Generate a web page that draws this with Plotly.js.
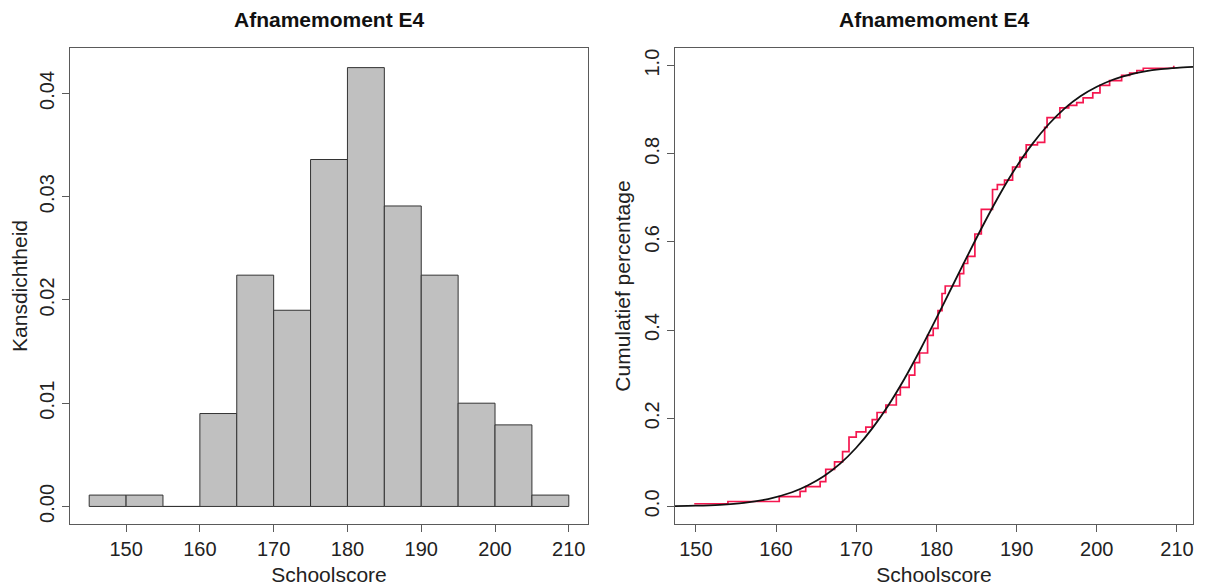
<!DOCTYPE html>
<html>
<head>
<meta charset="utf-8">
<script src="https://cdn.plot.ly/plotly-3.0.1.min.js"></script>
<style>html,body{margin:0;padding:0;background:#fff;}#chart{width:1210px;height:586px;}</style>
</head>
<body>
<div id="chart"></div>
<script>
// Histogram: bin left edges (width 5) and densities
const binStarts = [145, 150, 155, 160, 165, 170, 175, 180, 185, 190, 195, 200, 205];
const densities = [0.0011, 0.0011, 0.0, 0.0090, 0.0224, 0.0190, 0.0336, 0.0425, 0.0291, 0.0224, 0.0100, 0.0079, 0.0011];
const binWidth = 5;

// Empirical cumulative distribution (red step line)
const ecdfScore = [149.8, 154, 160.4, 163, 163.7, 165.5, 166.2, 167.3, 168.3, 169.1, 170, 171.2, 172, 172.6, 173.7, 175, 175.5, 176.6, 177.3, 177.9, 178.9, 179.6, 180.2, 180.7, 181.1, 182.9, 183.4, 183.9, 184.8, 185.6, 187, 187.6, 188.5, 189.5, 190.4, 191.2, 192.6, 193.5, 193.8, 195.4, 196.5, 197.5, 198.3, 199.5, 200.4, 201.6, 203.1, 204.1, 205, 205.8, 209.6];
const ecdfCum   = [0.006, 0.011, 0.022, 0.034, 0.045, 0.056, 0.084, 0.101, 0.124, 0.157, 0.169, 0.180, 0.197, 0.213, 0.230, 0.253, 0.270, 0.298, 0.326, 0.348, 0.388, 0.404, 0.444, 0.483, 0.500, 0.528, 0.551, 0.567, 0.618, 0.674, 0.719, 0.730, 0.740, 0.770, 0.792, 0.820, 0.826, 0.860, 0.882, 0.904, 0.910, 0.916, 0.927, 0.938, 0.955, 0.966, 0.978, 0.983, 0.989, 0.994, 1.000];

// Fitted smooth cumulative curve (black)
const fitScore = [147.4, 150, 153, 156, 159, 162, 164, 166, 168, 170, 172, 174, 176, 178, 180, 182, 184, 186, 188, 190, 192, 194, 196, 198, 200, 202, 204, 206, 208, 210, 212];
const fitCum   = [0.0007, 0.0015, 0.0036, 0.0080, 0.0166, 0.032, 0.048, 0.069, 0.097, 0.133, 0.177, 0.229, 0.289, 0.356, 0.427, 0.500, 0.573, 0.644, 0.711, 0.771, 0.823, 0.867, 0.903, 0.931, 0.952, 0.968, 0.979, 0.987, 0.992, 0.995, 0.997];

const titleText = 'Afnamemoment E4';
const xLabel = 'Schoolscore';
const yLabelLeft = 'Kansdichtheid';
const yLabelRight = 'Cumulatief percentage';
const xTicks = [150, 160, 170, 180, 190, 200, 210];
const yTicksLeft = [0, 0.01, 0.02, 0.03, 0.04];
const yTicksRight = [0, 0.2, 0.4, 0.6, 0.8, 1.0];

const FONT = 'Liberation Sans, Arial, Helvetica, sans-serif';
const frameColor = '#5a5a5a';
const textColor = '#222';

const traces = [
  {
    type: 'bar', x: binStarts, y: densities, width: binWidth, offset: 0,
    marker: {color: '#c0c0c0', line: {color: '#333', width: 1}},
    xaxis: 'x', yaxis: 'y', showlegend: false, hoverinfo: 'x+y'
  },
  {
    type: 'scatter', mode: 'lines', x: ecdfScore, y: ecdfCum,
    line: {color: '#f5174f', width: 1.7, shape: 'hv'},
    xaxis: 'x2', yaxis: 'y2', showlegend: false
  },
  {
    type: 'scatter', mode: 'lines', x: fitScore, y: fitCum,
    line: {color: '#111', width: 1.8, shape: 'spline', smoothing: 0.8},
    xaxis: 'x2', yaxis: 'y2', showlegend: false
  }
];

const yDom = [(586 - 524) / 586, (586 - 48) / 586];
function axisBase() {
  return {
    showline: true, mirror: true, linecolor: frameColor, linewidth: 1.2,
    ticks: 'outside', ticklen: 7, tickwidth: 1, tickcolor: frameColor,
    showgrid: false, zeroline: false, automargin: false,
    tickfont: {family: FONT, size: 20, color: textColor}
  };
}
const layout = {
  width: 1210, height: 586,
  margin: {l: 0, r: 0, t: 0, b: 0},
  paper_bgcolor: '#fff', plot_bgcolor: '#fff',
  font: {family: FONT, color: textColor},
  bargap: 0,
  xaxis: Object.assign(axisBase(), {
    domain: [70 / 1210, 588 / 1210], range: [142.4, 212.6],
    tickvals: xTicks, anchor: 'y',
    title: {text: xLabel, font: {family: FONT, size: 21, color: textColor}, standoff: 13}
  }),
  yaxis: Object.assign(axisBase(), {
    domain: yDom, range: [-0.0017, 0.0444],
    tickvals: yTicksLeft, tickformat: '.2f', tickangle: -90, anchor: 'x',
    title: {text: yLabelLeft, font: {family: FONT, size: 21, color: textColor}, standoff: 2}
  }),
  xaxis2: Object.assign(axisBase(), {
    domain: [675 / 1210, 1193 / 1210], range: [147.4, 212.0],
    tickvals: xTicks, anchor: 'y2',
    title: {text: xLabel, font: {family: FONT, size: 21, color: textColor}, standoff: 13}
  }),
  yaxis2: Object.assign(axisBase(), {
    domain: yDom, range: [-0.04, 1.04],
    tickvals: yTicksRight, tickformat: '.1f', tickangle: -90, anchor: 'x2',
    title: {text: yLabelRight, font: {family: FONT, size: 21, color: textColor}, standoff: 4}
  }),
  annotations: [
    {text: '<b>' + titleText + '</b>', xref: 'paper', yref: 'paper',
     x: (70 + 588) / 2 / 1210, y: 1 - 19 / 586, xanchor: 'center', yanchor: 'middle',
     showarrow: false, font: {family: FONT, size: 21, color: '#111'}},
    {text: '<b>' + titleText + '</b>', xref: 'paper', yref: 'paper',
     x: (675 + 1193) / 2 / 1210, y: 1 - 19 / 586, xanchor: 'center', yanchor: 'middle',
     showarrow: false, font: {family: FONT, size: 21, color: '#111'}}
  ]
};

Plotly.newPlot('chart', traces, layout, {displayModeBar: false, staticPlot: true});
</script>
</body>
</html>
